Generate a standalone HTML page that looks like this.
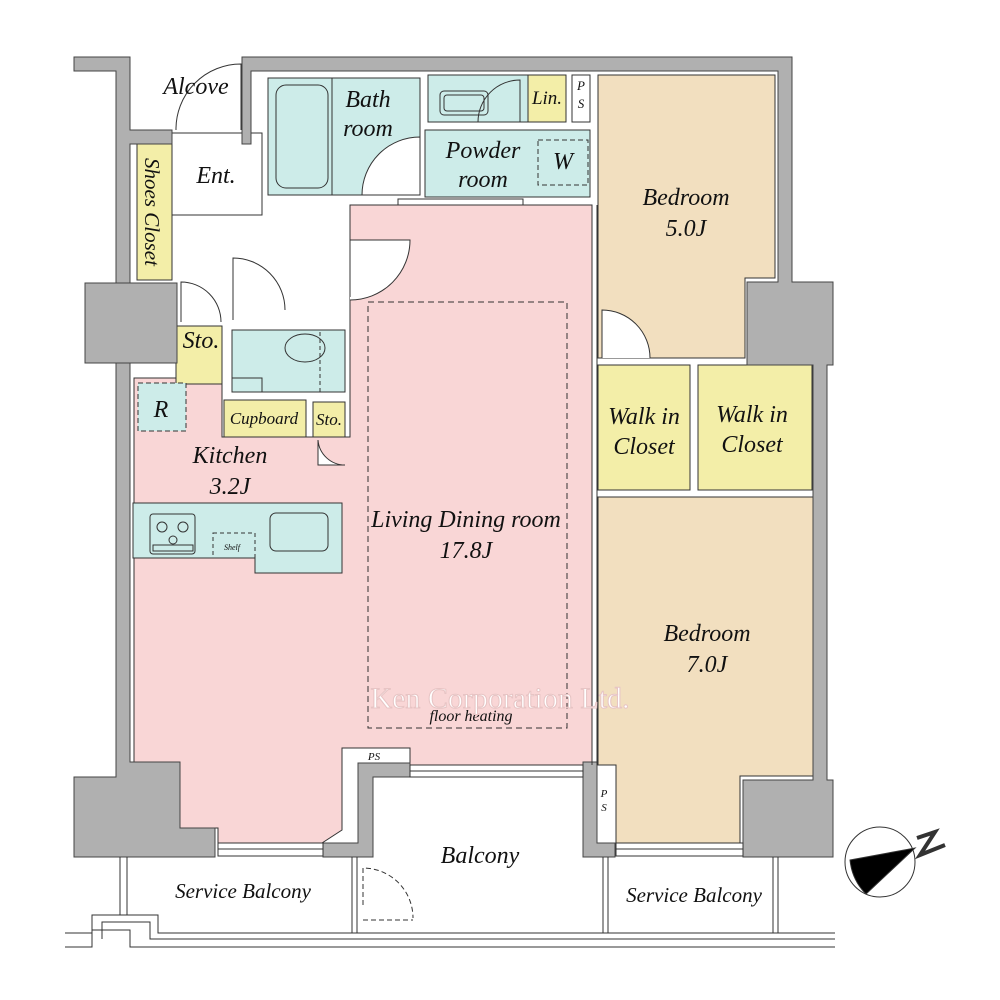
<!DOCTYPE html>
<html><head><meta charset="utf-8"><style>
html,body{margin:0;padding:0;background:#fff;}
svg{display:block}
text{font-family:"Liberation Serif",serif;font-style:italic;fill:#111}
</style></head><body>
<svg width="1000" height="1000" viewBox="0 0 1000 1000" xmlns="http://www.w3.org/2000/svg">
<rect width="1000" height="1000" fill="#fff"/>
<g stroke="#333" stroke-width="1">
<path d="M350,205 L592,205 L592,765 L410,765 L410,748 L342,748 L342,830 L322,843 L218,843 L218,828 L180,828 L180,762 L134,762 L134,378 L222,378 L222,437 L350,437 Z" fill="#f9d6d6"/>
<path d="M598,75 L775,75 L775,278 L745,278 L745,358 L598,358 Z" fill="#f2dfbf"/>
<path d="M598,497 L814,497 L814,776 L740,776 L740,850 L616,850 L616,765 L598,765 Z" fill="#f2dfbf"/>
<rect x="598" y="365" width="92" height="125" fill="#f3eea8"/>
<rect x="698" y="365" width="114" height="125" fill="#f3eea8"/>
<rect x="268" y="78" width="152" height="117" fill="#cdece9"/>
<rect x="276" y="85" width="52" height="103" rx="10" fill="#cdece9"/>
<line x1="332" y1="78" x2="332" y2="195"/>
<rect x="428" y="75" width="100" height="47" fill="#cdece9"/>
<rect x="440" y="91" width="48" height="24" rx="4" fill="#cdece9"/>
<rect x="444" y="95" width="40" height="16" rx="3" fill="none"/>
<rect x="528" y="75" width="38" height="47" fill="#f3eea8"/>
<rect x="572" y="75" width="18" height="47" fill="#fff"/>
<rect x="425" y="130" width="165" height="67" fill="#cdece9"/>
<rect x="538" y="140" width="50" height="45" fill="none" stroke-dasharray="5,3"/>
<rect x="172" y="133" width="90" height="82" fill="#fff"/>
<rect x="137" y="140" width="35" height="140" fill="#f3eea8"/>
<rect x="176" y="326" width="46" height="58" fill="#f3eea8"/>
<rect x="232" y="330" width="113" height="62" fill="#cdece9"/>
<ellipse cx="305" cy="348" rx="20" ry="14" fill="#cdece9"/>
<rect x="232" y="378" width="30" height="14" fill="#cdece9"/>
<rect x="320" y="330" width="25" height="62" fill="none" stroke-dasharray="4,3"/>
<rect x="224" y="400" width="82" height="37" fill="#f3eea8"/>
<rect x="313" y="402" width="32" height="35" fill="#f3eea8"/>
<rect x="138" y="383" width="48" height="48" fill="#cdece9" stroke-dasharray="5,3"/>
<path d="M133,503 L342,503 L342,573 L255,573 L255,558 L133,558 Z" fill="#cdece9"/>
<rect x="150" y="514" width="45" height="40" rx="3" fill="#cdece9"/>
<circle cx="162" cy="527" r="5" fill="none"/><circle cx="183" cy="527" r="5" fill="none"/><circle cx="173" cy="540" r="4" fill="none"/>
<rect x="153" y="545" width="40" height="6" fill="none"/>
<rect x="213" y="533" width="42" height="25" fill="none" stroke-dasharray="4,3"/>
<rect x="270" y="513" width="58" height="38" rx="6" fill="#cdece9"/>
<rect x="368" y="302" width="199" height="426" fill="none" stroke-dasharray="6,4"/>
</g>
<g fill="#b0b0b0" stroke="#444" stroke-width="1">
<path d="M74,57 L130,57 L130,130 L172,130 L172,144 L130,144 L130,283 L116,283 L116,71 L74,71 Z"/>
<path d="M242,57 L792,57 L792,282 L833,282 L833,365 L827,365 L827,780 L833,780 L833,857 L743,857 L743,780 L813,780 L813,365 L747,365 L747,282 L778,282 L778,71 L251,71 L251,144 L242,144 Z"/>
<rect x="85" y="283" width="92" height="80"/>
<path d="M116,363 L130,363 L130,762 L180,762 L180,828 L215,828 L215,857 L74,857 L74,777 L116,777 Z"/>
<path d="M358,763 L410,763 L410,777 L373,777 L373,857 L323,857 L323,843 L358,843 Z"/>
<path d="M583,762 L597,762 L597,843 L615,843 L615,857 L583,857 Z"/>
</g>
<g fill="none" stroke="#333" stroke-width="1">
<rect x="218" y="843" width="105" height="13" fill="#fff"/>
<line x1="218" y1="849" x2="323" y2="849"/>
<rect x="410" y="765" width="173" height="12" fill="#fff"/>
<line x1="410" y1="771" x2="583" y2="771"/>
<rect x="616" y="843" width="127" height="13" fill="#fff"/>
<line x1="616" y1="849" x2="743" y2="849"/>
<rect x="398" y="199" width="125" height="6" fill="#fff"/>
<line x1="592" y1="205" x2="592" y2="765"/><line x1="597" y1="205" x2="597" y2="765"/>
<path d="M65,947 L92,947 L92,930 L130,930 L130,947 L835,947"/>
<path d="M65,933 L92,933 L92,915 L158,915 L158,933 L835,933"/>
<path d="M102,939 L102,922 L150,922 L150,939 L835,939"/>
<line x1="120" y1="857" x2="120" y2="915"/><line x1="127" y1="857" x2="127" y2="915"/>
<line x1="352" y1="857" x2="352" y2="933"/><line x1="357" y1="857" x2="357" y2="933"/>
<line x1="603" y1="857" x2="603" y2="933"/><line x1="608" y1="857" x2="608" y2="933"/>
<line x1="773" y1="857" x2="773" y2="933"/><line x1="778" y1="857" x2="778" y2="933"/>
<path d="M241,130 L241,64 A65,65 0 0 0 176,130"/>
<path d="M420,137 L420,195 L362,195 A58,58 0 0 1 420,137 Z" fill="#fff"/>
<path d="M350,297 L350,240 L410,240 A60,60 0 0 1 350,300" fill="#fff"/>
<path d="M233,320 L233,258 A52,52 0 0 1 285,310" />
<path d="M181,322 L181,282 A40,40 0 0 1 221,322"/>
<path d="M520,122 L520,80 A42,42 0 0 0 478,122"/>
<path d="M602,358 L602,310 A48,48 0 0 1 650,358" fill="#fff"/>
<path d="M318,440 L318,465 L345,465 A27,27 0 0 1 318,440" fill="#fff"/>
<path d="M363,905 L363,868 A50,50 0 0 1 413,918" stroke-dasharray="5,3"/>
<line x1="363" y1="920" x2="413" y2="920" stroke-dasharray="5,3"/>
<circle cx="880" cy="862" r="35" fill="#fff"/>
<path d="M850,860 L915,848 L866,894 Q852,880 850,860 Z" fill="#000"/>
<path d="M917,838 L935,832 L920,855 L945,845" stroke-width="4"/>
</g>
<g font-size="24" text-anchor="middle">
<text x="196" y="94">Alcove</text>
<text x="216" y="183">Ent.</text>
<text x="368" y="107">Bath</text>
<text x="368" y="136">room</text>
<text x="483" y="158">Powder</text>
<text x="483" y="187">room</text>
<text x="563" y="169">W</text>
<text x="547" y="104" font-size="19">Lin.</text>
<text x="581" y="90" font-size="13">P</text>
<text x="581" y="108" font-size="13">S</text>
<text x="686" y="205">Bedroom</text>
<text x="686" y="236">5.0J</text>
<text x="644" y="424">Walk in</text>
<text x="644" y="454">Closet</text>
<text x="752" y="422">Walk in</text>
<text x="752" y="452">Closet</text>
<text x="201" y="348">Sto.</text>
<text x="161" y="417">R</text>
<text x="264" y="424" font-size="17">Cupboard</text>
<text x="329" y="425" font-size="17">Sto.</text>
<text x="230" y="463">Kitchen</text>
<text x="230" y="494">3.2J</text>
<text x="466" y="527">Living Dining room</text>
<text x="466" y="558">17.8J</text>
<text x="471" y="721" font-size="16">floor heating</text>
<text x="707" y="641">Bedroom</text>
<text x="707" y="672">7.0J</text>
<text x="480" y="863">Balcony</text>
<text x="243" y="898" font-size="21">Service Balcony</text>
<text x="694" y="902" font-size="21">Service Balcony</text>
<text x="374" y="760" font-size="11">PS</text>
<text x="604" y="797" font-size="11">P</text>
<text x="604" y="811" font-size="11">S</text>
<text x="232" y="550" font-size="8">Shelf</text>
<text x="500" y="708" font-size="30" style="font-style:normal;fill:#fff;stroke:#e7c4c4;stroke-width:1" font-family="Liberation Sans">Ken Corporation Ltd.</text>
</g>
<text x="0" y="0" font-size="21" transform="translate(145,158) rotate(90)">Shoes Closet</text>
</svg>
</body></html>
